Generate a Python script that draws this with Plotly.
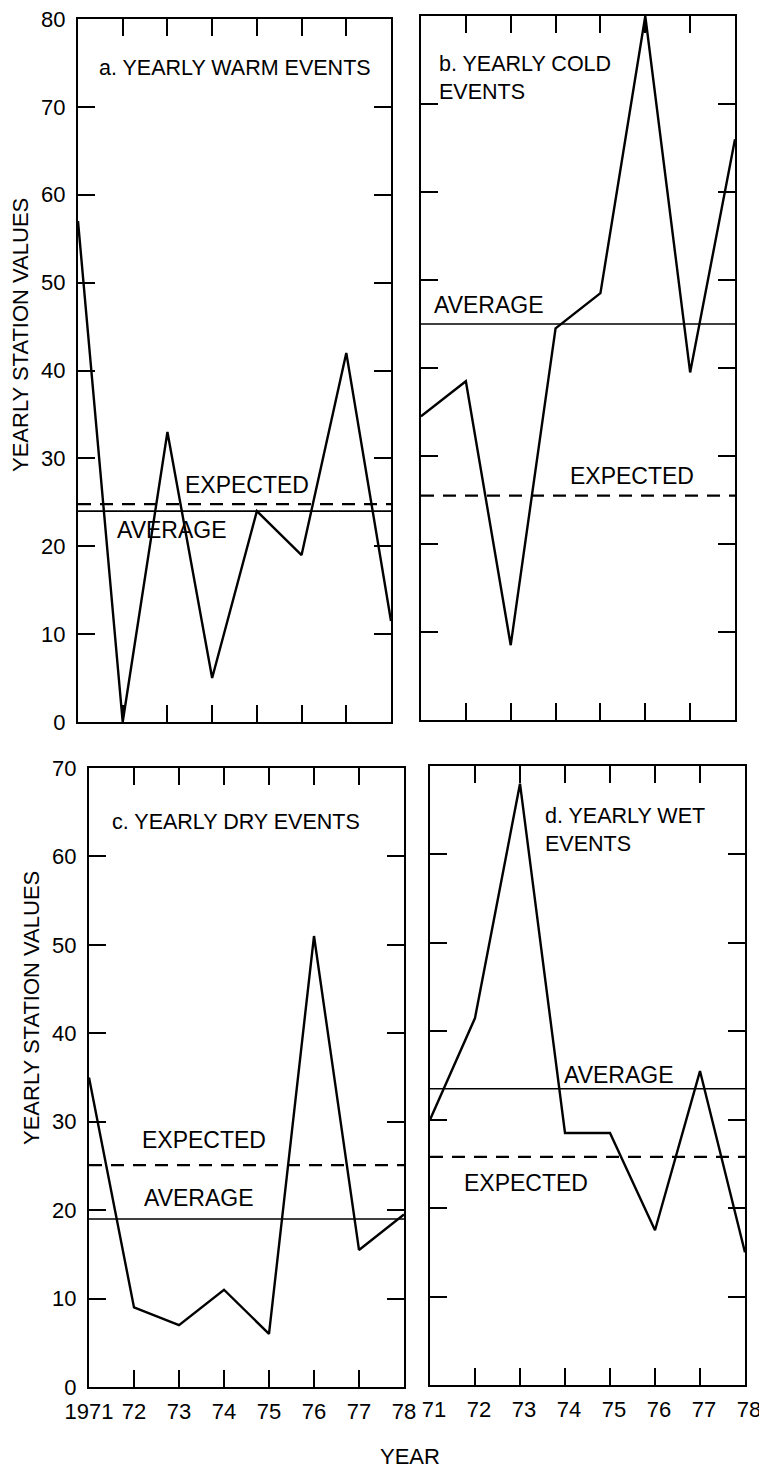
import plotly.graph_objects as go

# ---------------- data ----------------
years = [1971, 1972, 1973, 1974, 1975, 1976, 1977, 1978]
warm = [57, 0, 33, 5, 24, 19, 42, 11.5]
cold = [34.5, 38.5, 8.5, 44.5, 48.5, 80, 39.5, 66]
dry = [35, 9, 7, 11, 6, 51, 15.5, 19.5]
wet = [30, 41.5, 68, 28.5, 28.5, 17.5, 35.5, 15]

average_values = [24, 45, 19, 33.5]
expected_values = [24.8, 25.5, 25.1, 25.8]

panel_titles = ["a. YEARLY WARM EVENTS", "b. YEARLY COLD<br>EVENTS",
                "c. YEARLY DRY EVENTS", "d. YEARLY WET<br>EVENTS"]
y_ranges = [80, 80, 70, 70]
xtick_text_c = ["1971", "72", "73", "74", "75", "76", "77", "78"]
xtick_text_d = ["71", "72", "73", "74", "75", "76", "77", "78"]
ytick_vals_top = [0, 10, 20, 30, 40, 50, 60, 70, 80]
ytick_vals_bot = [0, 10, 20, 30, 40, 50, 60, 70]

# ---------------- layout geometry (pixels in the 767x1472 page) ----------------
OFF = 8  # default body margin of the html page
W, H = 767 - OFF, 1472 - OFF


def fx(px):
    return (px - OFF) / W


def fy(py):
    return 1 - (py - OFF) / H


boxes = [  # x0, x1, ytop, ybottom
    (78, 391, 19, 722),
    (421, 735, 16, 720),
    (89, 404, 768, 1387),
    (430, 745, 766, 1385),
]
FONT = "Liberation Sans, Arial, Helvetica, sans-serif"
FS_TICK = 22
FS_LABEL = 23
FS_TITLE = 21.5

fig = go.Figure()
series = [warm, cold, dry, wet]
for i, vals in enumerate(series):
    xa = "x" if i == 0 else f"x{i+1}"
    ya = "y" if i == 0 else f"y{i+1}"
    fig.add_trace(go.Scatter(x=years, y=vals, mode="lines", xaxis=xa, yaxis=ya,
                             line=dict(color="black", width=2.4), showlegend=False,
                             hoverinfo="skip"))
    fig.add_trace(go.Scatter(x=[years[0], years[-1]], y=[average_values[i]] * 2,
                             mode="lines", xaxis=xa, yaxis=ya,
                             line=dict(color="black", width=1.7), showlegend=False,
                             hoverinfo="skip"))
    fig.add_trace(go.Scatter(x=[years[0], years[-1]], y=[expected_values[i]] * 2,
                             mode="lines", xaxis=xa, yaxis=ya,
                             line=dict(color="black", width=2.3, dash="13px,9px"),
                             showlegend=False, hoverinfo="skip"))

layout = dict(
    template="none",
    width=W, height=H, paper_bgcolor="white", plot_bgcolor="white",
    margin=dict(l=0, r=0, t=0, b=0, pad=0),
    font=dict(family=FONT, size=FS_TICK, color="black"),
    showlegend=False,
)

for i, (x0, x1, yt, yb) in enumerate(boxes):
    sfx = "" if i == 0 else str(i + 1)
    xd = [fx(x0), fx(x1)]
    yd = [fy(yb), fy(yt)]
    show_x = i >= 2
    show_y = i in (0, 2)
    layout["xaxis" + sfx] = dict(
        domain=xd, range=[years[0], years[-1]], anchor="y" + sfx,
        tickvals=years, automargin=False,
        ticktext=(xtick_text_c if i == 2 else xtick_text_d),
        showticklabels=show_x, ticks="inside", ticklen=17, tickwidth=2,
        tickcolor="black", showline=True, linecolor="black", linewidth=2.2,
        mirror="allticks", showgrid=False, zeroline=False,
        tickfont=dict(family=FONT, size=FS_TICK, color="black"),
        ticklabelstandoff=3, ticklabeloverflow="allow",
        ticklabelshift=(4 if i == 3 else 0),
    )
    layout["yaxis" + sfx] = dict(
        domain=yd, range=[0, y_ranges[i]], anchor="x" + sfx, automargin=False,
        tickvals=(ytick_vals_top if i < 2 else ytick_vals_bot),
        showticklabels=show_y, ticks="inside", ticklen=17, tickwidth=2,
        tickcolor="black", showline=True, linecolor="black", linewidth=2.2,
        mirror="allticks", showgrid=False, zeroline=False,
        tickfont=dict(family=FONT, size=FS_TICK, color="black"),
        ticklabelstandoff=6, ticklabeloverflow="allow",
    )

fig.update_layout(**layout)

# ---------------- text labels ----------------
label_pos = [  # (title x, title y, expected x, expected y, average x, average y)
    (1971.43, 74.4, 1973.35, 27.0, 1971.83, 21.8),
    (1971.36, 73.0, 1974.28, 27.7, 1971.25, 47.2),
    (1971.47, 63.9, 1972.13, 27.9, 1972.18, 21.4),
    (1973.51, 62.8, 1971.71, 22.8, 1973.93, 35.1),
]
for i, (tx, ty, ex, ey, ax, ay) in enumerate(label_pos):
    xr = "x" if i == 0 else f"x{i+1}"
    yr = "y" if i == 0 else f"y{i+1}"
    fig.add_annotation(x=tx, y=ty, xref=xr, yref=yr, text=panel_titles[i],
                       showarrow=False, xanchor="left", yanchor="middle", align="left",
                       font=dict(family=FONT, size=FS_TITLE, color="black"))
    fig.add_annotation(x=ex, y=ey, xref=xr, yref=yr, text="EXPECTED",
                       showarrow=False, xanchor="left", yanchor="middle",
                       font=dict(family=FONT, size=FS_LABEL, color="black"))
    fig.add_annotation(x=ax, y=ay, xref=xr, yref=yr, text="AVERAGE",
                       showarrow=False, xanchor="left", yanchor="middle",
                       font=dict(family=FONT, size=FS_LABEL, color="black"))

for (px, py) in [(20, 335), (31, 1008)]:
    fig.add_annotation(x=fx(px), y=fy(py), xref="paper", yref="paper",
                       text="YEARLY STATION VALUES", textangle=-90, showarrow=False,
                       xanchor="center", yanchor="middle",
                       font=dict(family=FONT, size=22, color="black"))

fig.add_annotation(x=fx(410), y=fy(1456), xref="paper", yref="paper", text="YEAR",
                   showarrow=False, xanchor="center", yanchor="middle",
                   font=dict(family=FONT, size=22, color="black"))

fig.write_html("out.html")
